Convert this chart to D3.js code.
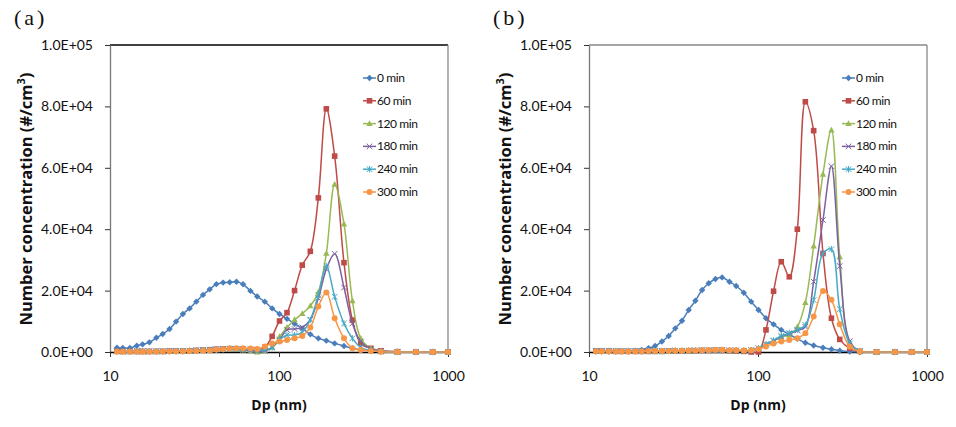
<!DOCTYPE html>
<html><head><meta charset="utf-8">
<script src="https://cdn.jsdelivr.net/npm/d3@7"></script>
<style>body{margin:0;background:#fff}svg{display:block}</style>
</head><body>
<script>
// ---- data ----
const dp = [11.0,11.9,13.1,14.4,15.6,17.1,18.8,20.5,22.5,24.6,27.0,29.6,32.4,35.5,38.9,42.6,46.7,51.1,56.0,61.3,67.8,74.3,82.4,91.1,100.7,111.5,123.6,137.3,153.2,170.9,190.6,213.5,242.4,271.9,304.6,349.2,400.4,502.8,645.9,811.5,1000];
const seriesNames = ["0 min","60 min","120 min","180 min","240 min","300 min"];
const a0 = [1400,1300,1300,2050,2500,3150,4650,5860,7500,9900,12400,14200,16400,18600,20400,22100,22600,22700,22900,22050,19900,18100,16400,14200,12400,10800,9200,7700,5750,4450,3700,2800,1950,1200,650,400,200,100,0,0,0];
const a60 = [300,200,200,200,200,200,200,200,300,300,300,400,500,600,700,900,1000,1100,1000,900,800,700,1500,5100,10100,12800,20000,28300,32800,50200,79200,63800,29100,10400,2800,1200,400,100,0,0,0];
const a120 = [200,200,200,200,200,200,200,200,300,300,300,400,500,600,700,800,900,1000,900,600,300,0,300,1500,5000,8000,10500,12500,15000,19500,32100,54600,41700,16700,4450,1200,300,0,0,0,0];
const a180 = [200,200,200,200,200,200,200,200,300,300,300,400,500,600,700,800,900,1000,900,700,500,300,400,1500,4000,7200,7500,8000,10500,17500,27000,32000,21000,9300,3400,1000,300,0,0,0,0];
const a240 = [200,200,200,200,200,200,200,200,300,300,300,400,500,600,700,800,900,1000,1000,900,800,700,700,1500,4000,5500,5500,6500,10500,18500,28000,18000,9300,4450,1500,500,100,0,0,0,0];
const a300 = [100,100,100,100,100,100,100,200,200,200,200,300,300,400,500,700,900,1100,1200,1200,1100,1000,1800,2800,3400,3900,4450,5200,8000,14800,19400,11000,4450,1200,650,300,100,0,0,0,0];
const b0 = [200,200,200,200,300,300,400,650,1200,1950,3400,5200,7700,10200,13700,16700,20200,22400,23800,24300,22900,21500,19300,16400,13700,11000,9000,7200,5700,4300,3000,2100,1400,900,400,150,0,0,0,0,0];
const b60 = [300,300,300,200,200,200,200,200,200,200,200,300,300,300,400,400,500,500,500,500,400,300,200,0,0,7200,19800,29400,24500,40000,81500,72100,32100,11000,4100,1200,200,0,0,0,0];
const b120 = [300,300,300,300,300,300,300,300,300,300,300,300,400,400,400,500,500,500,600,600,500,500,400,600,1200,2500,3500,5000,5500,8200,16100,34500,57900,72300,31000,3000,300,0,0,0,0];
const b180 = [300,300,300,300,300,300,300,300,300,300,300,300,400,400,400,500,500,500,600,600,500,500,400,600,1200,2500,3600,5000,6000,7000,8200,22900,43000,60500,28000,3500,300,0,0,0,0];
const b240 = [300,300,300,300,300,300,300,300,300,300,300,300,400,400,400,500,500,500,600,600,500,500,400,600,1200,2500,3800,5200,6200,7200,8800,16900,32100,33500,14000,2800,300,0,0,0,0];
const b300 = [200,200,200,200,200,200,200,200,300,300,300,300,400,400,500,500,600,600,700,700,600,600,500,600,1000,1800,2800,3400,3900,4500,6100,11600,19900,17000,9000,1700,200,0,0,0,0];
const yTicks = [0,20000,40000,60000,80000,100000];
const yTickLabels = ["0.0E+00","2.0E+04","4.0E+04","6.0E+04","8.0E+04","1.0E+05"];
const xTicks = [10,100,1000];
const panelLabels = ["(a)","(b)"];

// ---- style ----
const colors = ["#4A7EBB","#BE4B48","#98B954","#7D60A0","#46AAC5","#F79646"];
const W = 956, H = 427;
const svg = d3.select("body").append("svg").attr("width", W).attr("height", H);
const yTop = 45, yBot = 352;
const panels = [
  {x0:110, x1:448, data:[a0,a60,a120,a180,a240,a300], label:panelLabels[0], topStroke:"#000"},
  {x0:589, x1:927, data:[b0,b60,b120,b180,b240,b300], label:panelLabels[1], topStroke:"#888"}
];

function marker(g, i, cx, cy, col) {
  if (i === 0) {
    g.append("path").attr("d", `M${cx},${cy-3.2}L${cx+3.2},${cy}L${cx},${cy+3.2}L${cx-3.2},${cy}Z`).attr("fill", col);
  } else if (i === 1) {
    g.append("rect").attr("x", cx-2.8).attr("y", cy-2.8).attr("width", 5.6).attr("height", 5.6).attr("fill", col);
  } else if (i === 2) {
    g.append("path").attr("d", `M${cx},${cy-3.4}L${cx+3.2},${cy+2.4}L${cx-3.2},${cy+2.4}Z`).attr("fill", col);
  } else if (i === 3) {
    g.append("path").attr("d", `M${cx-2.8},${cy-2.8}L${cx+2.8},${cy+2.8}M${cx-2.8},${cy+2.8}L${cx+2.8},${cy-2.8}`).attr("stroke", col).attr("stroke-width", 1);
  } else if (i === 4) {
    g.append("path").attr("d", `M${cx-2.8},${cy-2.8}L${cx+2.8},${cy+2.8}M${cx-2.8},${cy+2.8}L${cx+2.8},${cy-2.8}M${cx},${cy-3.2}L${cx},${cy+3.2}`).attr("stroke", col).attr("stroke-width", 1);
  } else {
    g.append("circle").attr("cx", cx).attr("cy", cy).attr("r", 3).attr("fill", col);
  }
}

const tickFont = "Lato, 'Open Sans', sans-serif";

panels.forEach((p, pi) => {
  const x = d3.scaleLog().domain([10, 1000]).range([p.x0, p.x1]);
  const y = d3.scaleLinear().domain([0, 100000]).range([yBot, yTop]);
  const g = svg.append("g");

  g.append("line").attr("x1", p.x0).attr("x2", p.x1).attr("y1", yTop).attr("y2", yTop).attr("stroke", p.topStroke).attr("stroke-width", 1.3);
  g.append("line").attr("x1", p.x1).attr("x2", p.x1).attr("y1", yTop).attr("y2", yBot).attr("stroke", "#888").attr("stroke-width", 1.3);

  const ya = g.append("g").attr("transform", `translate(${p.x0},0)`)
    .call(d3.axisLeft(y).tickValues(yTicks).tickFormat((d, i) => yTickLabels[i]).tickSize(5).tickSizeOuter(0).tickPadding(12));
  ya.select(".domain").attr("stroke", "#777").attr("stroke-width", 1.3);
  ya.selectAll(".tick line").attr("stroke", "#333");
  ya.selectAll("text").attr("font-family", tickFont).attr("font-size", 14).attr("fill", "#111");

  const xa = g.append("g").attr("transform", `translate(0,${yBot})`)
    .call(d3.axisBottom(x).tickValues(xTicks).tickFormat(d3.format("d")).tickSize(5).tickSizeOuter(0).tickPadding(14));
  xa.select(".domain").attr("stroke", "#000").attr("stroke-width", 1.3);
  xa.selectAll(".tick line").attr("stroke", "#333");
  xa.selectAll("text").attr("font-family", tickFont).attr("font-size", 14).attr("fill", "#111");

  g.append("text").attr("x", (p.x0 + p.x1) / 2).attr("y", 410).attr("text-anchor", "middle")
    .attr("font-family", "'Open Sans', sans-serif").attr("font-weight", "bold").attr("font-size", 14).attr("fill", "#111").text("Dp (nm)");
  const yt = g.append("text").attr("transform", `translate(${p.x0 - 78},199) rotate(-90)`).attr("text-anchor", "middle")
    .attr("font-family", "'Open Sans', sans-serif").attr("font-weight", "bold").attr("font-size", 16.5).attr("fill", "#111");
  yt.append("tspan").text("Number concentration (#/cm");
  yt.append("tspan").attr("font-size", 11).attr("dy", -7).text("3");
  yt.append("tspan").attr("dy", 7).text(")");

  g.append("text").attr("x", p.x0 - 96).attr("y", 25).attr("font-family", "'Liberation Serif', serif").attr("font-size", 22)
    .attr("letter-spacing", 3).attr("fill", "#111").text(p.label);

  const line = d3.line().x((d, i) => x(dp[i])).y(d => y(d)).curve(d3.curveCatmullRom.alpha(0.5));
  p.data.forEach((vals, si) => {
    const sg = g.append("g");
    sg.append("path").attr("d", line(vals)).attr("fill", "none").attr("stroke", colors[si]).attr("stroke-width", 1.5);
    vals.forEach((v, i) => marker(sg, si, x(dp[i]), y(v), colors[si]));
  });

  const lg = g.append("g");
  seriesNames.forEach((n, si) => {
    const ly = 78 + si * 22.8;
    const lx = p.x0 + 253;
    lg.append("line").attr("x1", lx).attr("x2", lx + 13).attr("y1", ly).attr("y2", ly).attr("stroke", colors[si]).attr("stroke-width", 1.5);
    marker(lg, si, lx + 6.5, ly, colors[si]);
    lg.append("text").attr("x", lx + 14).attr("y", ly + 4).attr("font-family", tickFont).attr("font-size", 12)
      .attr("letter-spacing", -0.4).attr("fill", "#111").text(n);
  });
});
</script>
</body></html>
